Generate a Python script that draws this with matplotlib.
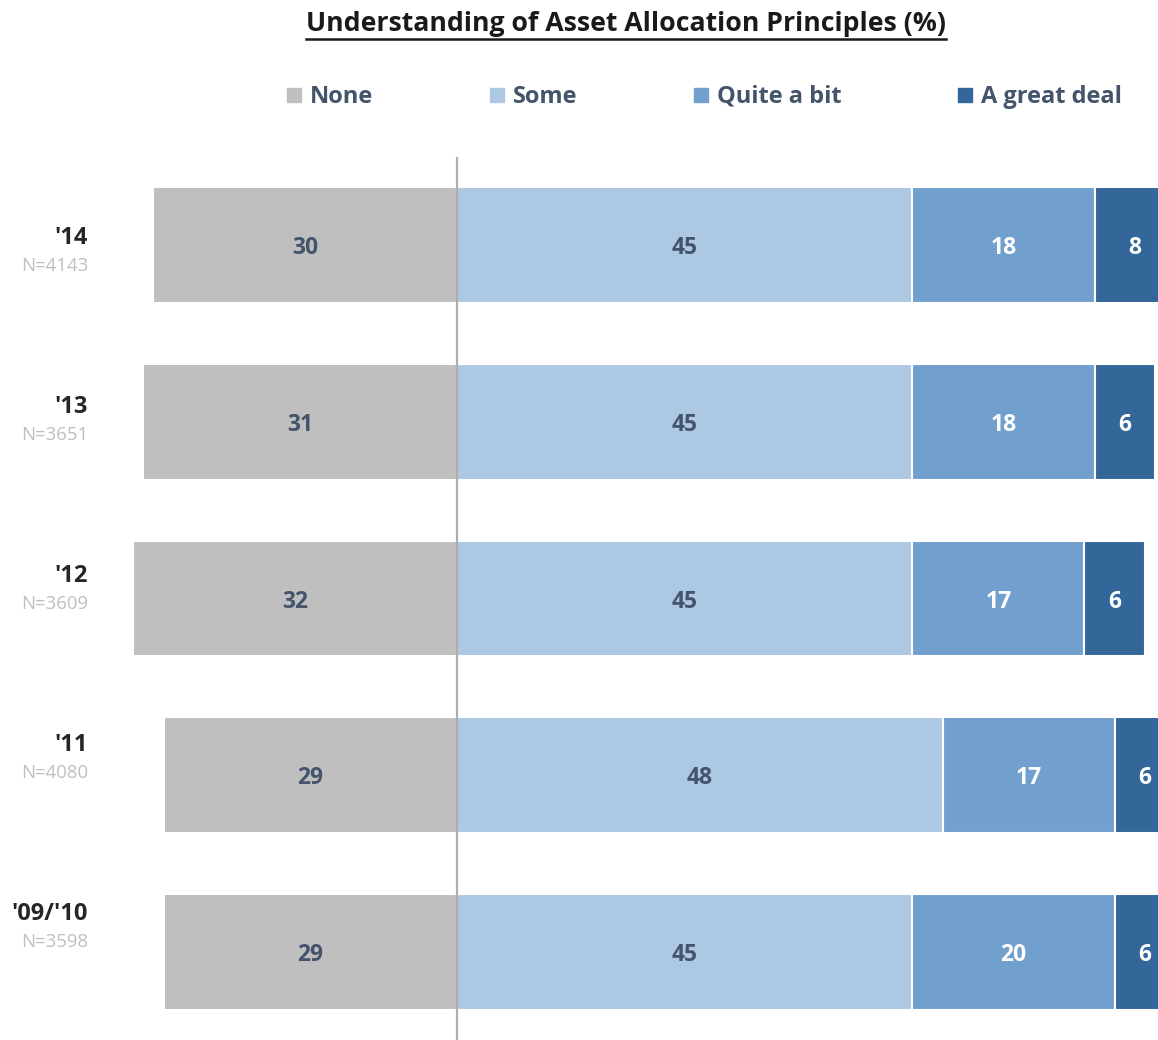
import matplotlib
matplotlib.use("Agg")
import matplotlib.pyplot as plt
from matplotlib.lines import Line2D
import numpy as np

plt.rcParams['font.family'] = ['Open Sans', 'DejaVu Sans']

years = ["'14", "'13", "'12", "'11", "'09/'10"]
ns = ["N=4143", "N=3651", "N=3609", "N=4080", "N=3598"]
categories = ["None", "Some", "Quite a bit", "A great deal"]
none_vals = [30, 31, 32, 29, 29]
some_vals = [45, 45, 45, 48, 45]
quite_vals = [18, 18, 17, 17, 20]
great_vals = [8, 6, 6, 6, 6]

colors = ["#BFBFBF", "#ADC8E3", "#71A0CF", "#336699"]
label_colors = ["#44546A", "#44546A", "white", "white"]

W, H = 1158, 1040
fig = plt.figure(figsize=(W / 100, H / 100), dpi=100)
ax = fig.add_axes([0, 0, 1, 1 - 157 / H])

scale = 10.12  # px per unit
ax.set_xlim(-457 / scale, (W - 457) / scale)
ax.set_ylim(4.5, -0.5)
ax.axis('off')

y = np.arange(len(years))
none = np.array(none_vals)
some = np.array(some_vals)
quite = np.array(quite_vals)
great = np.array(great_vals)

h = 0.655
segs = [(-none, none), (np.zeros_like(some), some), (some, quite), (some + quite, great)]
for (left, width), c, lc in zip(segs, colors, label_colors):
    ax.barh(y, width, left=left, height=h, color=c, edgecolor='white', linewidth=1.5, zorder=2)
    for yi, l, w in zip(y, left, width):
        ax.annotate(str(w), (l + w / 2, yi), xytext=(0, -3), textcoords='offset pixels',
                    ha='center', va='center', fontsize=16.5,
                    fontweight='bold', color=lc, zorder=4)

ax.axvline(0, color='#AEAEAE', linewidth=1.6, zorder=5)

# Row labels
for i, (yr, n) in enumerate(zip(years, ns)):
    ypx = 238 + i * 169
    fig.text(88 / W, 1 - ypx / H, yr, ha='right', va='center', fontsize=17,
             fontweight='bold', color='#262626')
    fig.text(88 / W, 1 - (ypx + 28) / H, n, ha='right', va='center', fontsize=13.4,
             color='#BFBFBF')

# Title with underline
title = fig.text(626 / W, 1 - 24 / H, "Understanding of Asset Allocation Principles (%)",
                 ha='center', va='center', fontsize=19.2, fontweight='bold', color='#1a1a1a')
fig.canvas.draw()
bb = title.get_window_extent()
uy = 1 - 39 / H
fig.add_artist(Line2D([bb.x0 / W, bb.x1 / W], [uy, uy], transform=fig.transFigure,
                      color='#1a1a1a', linewidth=1.8))

# Legend
handles = [Line2D([], [], marker='s', linestyle='none', markersize=9.5,
                  markerfacecolor=c, markeredgecolor=c) for c in colors]
leg = fig.legend(handles, categories, loc='center', bbox_to_anchor=(704 / W, 1 - 97 / H),
                 ncol=4, frameon=False, handlelength=0.65, handletextpad=0.35,
                 columnspacing=4.9, prop={'size': 17, 'weight': 'bold'})
for t in leg.get_texts():
    t.set_color('#44546A')

fig.savefig("out.png", dpi=100)
